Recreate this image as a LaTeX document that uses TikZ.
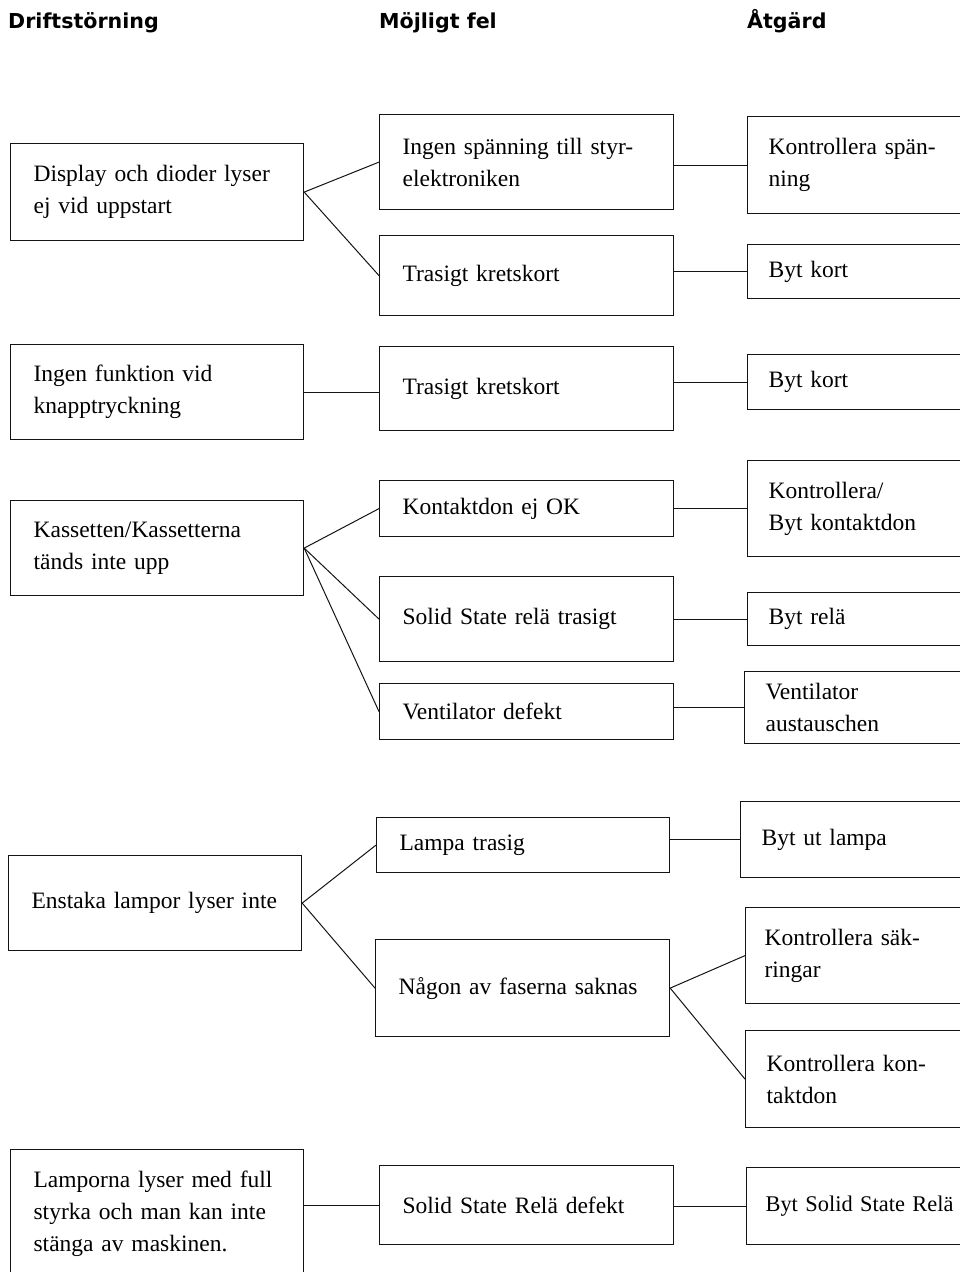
\documentclass[tikz,border=0pt]{standalone}
\usepackage{fontspec}
\setmainfont{Liberation Serif}
\newfontfamily\headfont{DejaVu Sans}
\usepackage{tikz}
\usetikzlibrary{positioning,calc}
\definecolor{myline}{RGB}{20,20,20}
\tikzset{
  colhead/.style={anchor=base west,inner sep=0pt,font=\headfont\bfseries\fontsize{20.6}{24}\selectfont},
  fault/.style={rectangle,draw=myline,line width=1.2pt,anchor=north west,align=left,
    inner xsep=23pt,inner ysep=0pt,text width=247pt,font=\fontsize{23.5}{32}\selectfont},
  cause/.style={fault,text width=248pt},
  remedy/.style={fault,inner xsep=21pt,text width=230pt},
  link/.style={draw=myline,line width=1pt},
}

\begin{document}
\begin{tikzpicture}[x=1pt,y=-1pt]
  \useasboundingbox (0,0) rectangle (960,1272);
  \clip (0,0) rectangle (960,1272);

  % column titles
  \node[colhead] (hdrift) at (8,28) {Driftstörning};
  \node[colhead] (hfel)   at (379,28) {Möjligt fel};
  \node[colhead] (hatg)   at (747,28) {Åtgärd};

  % Driftstörning
  \node[fault,minimum height=97] (drift1) at (10,143) {Display och dioder lyser\\ej vid uppstart};
  \node[fault,minimum height=95] (drift2) at (10,344) {Ingen funktion vid\\knapptryckning};
  \node[fault,minimum height=95] (drift3) at (10,500) {Kassetten/Kassetterna\\tänds inte upp};
  \node[fault,minimum height=95] (drift4) at (8,855) {Enstaka lampor lyser inte};
  \node[fault,minimum height=129] (drift5) at (10,1149) {Lamporna lyser med full\\styrka och man kan inte\\stänga av maskinen.};

  % Möjligt fel
  \node[cause,minimum height=95] (fel1) at (379,114) {Ingen spänning till styr-\\elektroniken};
  \node[cause,minimum height=80] (fel2) at (379,235) {Trasigt kretskort};
  \node[cause,minimum height=84] (fel3) at (379,346) {Trasigt kretskort};
  \node[cause,minimum height=56] (fel4) at (379,480) {Kontaktdon ej OK};
  \node[cause,minimum height=85] (fel5) at (379,576) {Solid State relä trasigt};
  \node[cause,minimum height=56] (fel6) at (379,683) {Ventilator defekt};
  \node[cause,minimum height=55,text width=247pt] (fel7) at (376,817) {Lampa trasig};
  \node[cause,minimum height=97] (fel8) at (375,939) {Någon av faserna saknas};
  \node[cause,minimum height=79] (fel9) at (379,1165) {Solid State Relä defekt};

  % Åtgärd
  \node[remedy,minimum height=97] (atg1) at (747,116) {Kontrollera spän-\\ning};
  \node[remedy,minimum height=54] (atg2) at (747,244) {Byt kort};
  \node[remedy,minimum height=55] (atg3) at (747,354) {Byt kort};
  \node[remedy,minimum height=96] (atg4) at (747,460) {Kontrollera/\\Byt kontaktdon};
  \node[remedy,minimum height=53] (atg5) at (747,592) {Byt relä};
  \node[remedy,minimum height=72] (atg6) at (744,671) {Ventilator\\austauschen};
  \node[remedy,minimum height=76] (atg7) at (740,801) {Byt ut lampa};
  \node[remedy,minimum height=96,inner xsep=19pt] (atg8) at (745,907) {Kontrollera säk-\\ringar};
  \node[remedy,minimum height=97] (atg9) at (745,1030) {Kontrollera kon-\\taktdon};
  \node[remedy,minimum height=77,inner xsep=19pt,font=\fontsize{22.4}{32}\selectfont] (atg10) at (746,1167) {Byt Solid State Relä};

  % fan-out lines
  \draw[link] (drift1.east) -- (fel1.west);
  \draw[link] (drift1.east) -- (fel2.west);
  \draw[link] (drift3.east) -- (fel4.west);
  \draw[link] (drift3.east) -- (fel5.west);
  \draw[link] (drift3.east) -- (fel6.west);
  \draw[link] (drift4.east) -- (fel7.west);
  \draw[link] (drift4.east) -- (fel8.west);
  \draw[link] (fel8.east) -- (atg8.west);
  \draw[link] (fel8.east) -- (atg9.west);

  % straight lines
  \draw[link] (drift2.east) -- (drift2.east -| fel3.west);
  \draw[link] (drift5.east |- fel9.west) -- (fel9.west);
  \draw[link] (fel1.east |- atg1.west) -- (atg1.west);
  \draw[link] (fel2.east |- atg2.west) -- (atg2.west);
  \draw[link] (fel3.east |- atg3.west) -- (atg3.west);
  \draw[link] (fel4.east |- atg4.west) -- (atg4.west);
  \draw[link] (fel5.east |- atg5.west) -- (atg5.west);
  \draw[link] (fel6.east |- atg6.west) -- (atg6.west);
  \draw[link] (fel7.east |- atg7.west) -- (atg7.west);
  \draw[link] (fel9.east |- atg10.west) -- (atg10.west);
\end{tikzpicture}
\end{document}
